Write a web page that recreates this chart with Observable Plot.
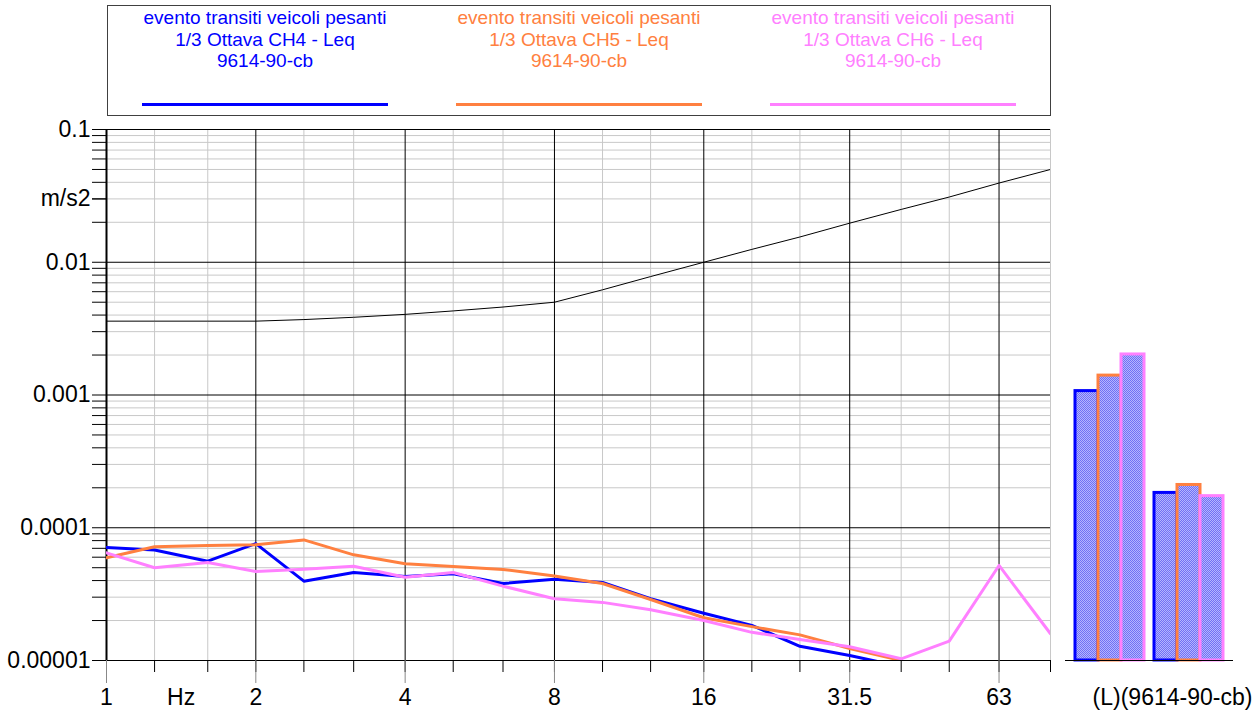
<!DOCTYPE html>
<html>
<head>
<meta charset="utf-8">
<script src="https://cdn.jsdelivr.net/npm/d3@7"></script>
<script src="https://cdn.jsdelivr.net/npm/@observablehq/plot@0.6"></script>
<style>
  body { margin: 0; background: #fff; font-family: "Liberation Sans", Arial, sans-serif; }
  #wrap { position: relative; width: 1259px; height: 713px; overflow: hidden; background: #fff; }
  #legend { position: absolute; left: 107px; top: 5px; width: 942px; height: 109px; border: 1px solid #404040; display: flex; }
  .col { flex: 1; text-align: center; font-size: 19px; line-height: 21.5px; padding-top: 1px; position: relative; }
  .col .sw { position: absolute; left: 50%; transform: translateX(-50%); width: 246px; height: 3px; top: 97px; }
  #main { position: absolute; left: 0; top: 118px; }
  #bars { position: absolute; left: 1060px; top: 118px; }
  #cap { position: absolute; left: 1086px; top: 684px; width: 173px; text-align: center; font-size: 23px; line-height: 26px; white-space: nowrap; }
</style>
</head>
<body>
<div id="wrap">
  <div id="legend"></div>
  <div id="main"></div>
  <div id="bars"></div>
  <div id="cap"></div>
</div>
<script>
// ---- data ----
const bands = [1, 1.25, 1.6, 2, 2.5, 3.15, 4, 5, 6.3, 8, 10, 12.5, 16, 20, 25, 31.5, 40, 50, 63, 80];
const octaveTicks = [1, 2, 4, 8, 16, 31.5, 63];
const octaveLabels = ["1", "2", "4", "8", "16", "31.5", "63"];
const yDecades = [0.1, 0.01, 0.001, 0.0001, 0.00001];
const yDecadeLabels = ["0.1", "0.01", "0.001", "0.0001", "0.00001"];
const yUnit = "m/s2";
const yUnitAt = 0.03;
const xUnit = "Hz";

const channels = ["CH4", "CH5", "CH6"];
const channelColors = ["#0000ff", "#ff8040", "#ff80ff"];
const legendLines = ["evento transiti veicoli pesanti", "1/3 Ottava {ch} - Leq", "9614-90-cb"];

const ch4 = [7.1e-5, 6.8e-5, 5.6e-5, 7.6e-5, 3.96e-5, 4.6e-5, 4.3e-5, 4.5e-5, 3.8e-5, 4.1e-5, 3.87e-5, 2.92e-5, 2.27e-5, 1.84e-5, 1.28e-5, 1.09e-5, 9.0e-6];
const ch5 = [5.94e-5, 7.2e-5, 7.35e-5, 7.45e-5, 8.1e-5, 6.25e-5, 5.35e-5, 5.1e-5, 4.85e-5, 4.33e-5, 3.8e-5, 2.88e-5, 2.1e-5, 1.8e-5, 1.56e-5, 1.23e-5, 1.0e-5, 6.0e-6];
const ch6 = [6.47e-5, 5.0e-5, 5.47e-5, 4.68e-5, 4.87e-5, 5.13e-5, 4.24e-5, 4.6e-5, 3.63e-5, 2.92e-5, 2.74e-5, 2.41e-5, 2.0e-5, 1.63e-5, 1.44e-5, 1.27e-5, 1.03e-5, 1.40e-5, 5.2e-5, 1.59e-5];
const limitCurve = [3.6e-3, 3.6e-3, 3.6e-3, 3.6e-3, 3.7e-3, 3.85e-3, 4.05e-3, 4.3e-3, 4.6e-3, 5.0e-3, 6.2e-3, 7.8e-3, 1.0e-2, 1.25e-2, 1.55e-2, 1.97e-2, 2.5e-2, 3.1e-2, 3.95e-2, 5.0e-2];

const barGroups = ["Lin", "L"];
const barCH4 = [1.07e-3, 1.83e-4];
const barCH5 = [1.40e-3, 2.1e-4];
const barCH6 = [2.02e-3, 1.73e-4];
const barCaption = "(L)(9614-90-cb)";

// ---- derived tables ----
const yMin = 1e-5, yMax = 0.1;
const yMinor = [];
for (const d of [0.01, 0.001, 0.0001, 0.00001]) for (let k = 2; k <= 9; k++) yMinor.push(+(d * k).toPrecision(3));
const minorBands = bands.filter(b => !octaveTicks.includes(b));
const octaveLabelMap = new Map(octaveTicks.map((t, i) => [t, octaveLabels[i]]));
const yLabelMap = new Map(yDecades.map((t, i) => [t, yDecadeLabels[i]]));

const series = [ch4, ch5, ch6];
const lineRows = series.flatMap((arr, s) => arr.map((v, i) => ({ f: bands[i], v, ch: channels[s] })));
const limitRows = limitCurve.map((v, i) => ({ f: bands[i], v }));
const barSeries = [barCH4, barCH5, barCH6];
const barRows = barGroups.flatMap((g, gi) => channels.map((c, ci) => ({ g, ch: c, v: barSeries[ci][gi] })));

// ---- legend ----
const legend = document.getElementById("legend");
channels.forEach((c, i) => {
  const col = document.createElement("div");
  col.className = "col";
  col.style.color = channelColors[i];
  col.innerHTML = legendLines.map(l => `<div>${l.replace("{ch}", c)}</div>`).join("");
  const sw = document.createElement("div");
  sw.className = "sw";
  sw.style.background = channelColors[i];
  col.appendChild(sw);
  legend.appendChild(col);
});

// ---- main chart ----
const W = 1060, H = 595, MT = 11, MB = 53, ML = 106, MR = 10;
const frameH = H - MT - MB;
const font = { fontFamily: "'Liberation Sans', Arial, sans-serif", background: "#fff", color: "#000", overflow: "visible" };
const main = Plot.plot({
  width: W, height: H,
  marginTop: MT, marginBottom: MB, marginLeft: ML, marginRight: MR,
  style: font,
  x: { type: "log", domain: [1, 80], label: null },
  y: { type: "log", domain: [yMin, yMax], label: null },
  color: { domain: channels, range: channelColors },
  marks: [
    Plot.gridY(yMinor, { stroke: "#c8c8c8", strokeOpacity: 1 }),
    Plot.gridX(minorBands, { stroke: "#c8c8c8", strokeOpacity: 1 }),
    Plot.gridY(yDecades, { stroke: "#000", strokeOpacity: 1 }),
    Plot.gridX(octaveTicks, { stroke: "#000", strokeOpacity: 1 }),
    Plot.ruleX([bands[0]], { stroke: "#000", strokeWidth: 2 }),
    Plot.axisY(yMinor, { tickSize: 14, tickFormat: () => "", stroke: "#000" }),
    Plot.axisY(yDecades, { tickSize: 14, tickPadding: 2, fontSize: 23, tickFormat: d => yLabelMap.get(d) }),
    Plot.axisY([yUnitAt], { tickSize: 14, tickPadding: 2, fontSize: 23, tickFormat: () => yUnit }),
    Plot.axisX(bands, { tickSize: 12, tickFormat: () => "", stroke: "#000" }),
    // long grey octave ticks below the frame
    Plot.ruleX(octaveTicks, { x: d => d, stroke: "#888", insetTop: frameH, insetBottom: -23 }),
    Plot.text(octaveTicks, { x: d => d, text: d => octaveLabelMap.get(d), frameAnchor: "bottom", lineAnchor: "top", dy: 28, fontSize: 23 }),
    Plot.text([xUnit], { x: () => Math.SQRT2, text: d => d, frameAnchor: "bottom", lineAnchor: "top", dy: 28, fontSize: 23 }),
    Plot.line(limitRows, { x: "f", y: "v", stroke: "#000", strokeWidth: 1, clip: true }),
    Plot.line(lineRows, { x: "f", y: "v", z: "ch", stroke: "ch", strokeWidth: 3, clip: true })
  ]
});
document.getElementById("main").appendChild(main);

// ---- bar panel ----
const bars = Plot.plot({
  width: 199, height: 562,
  marginTop: 11, marginBottom: 20, marginLeft: 15, marginRight: 35,
  style: font,
  y: { type: "log", domain: [yMin, yMax], axis: null, label: null },
  x: { domain: channels, padding: 0, axis: null, label: null },
  fx: { domain: barGroups, padding: 0.126, axis: null, label: null },
  color: { domain: channels, range: channelColors },
  marks: [
    Plot.barY(barRows, { fx: "g", x: "ch", y1: yMin, y2: "v", fill: "url(#chk)", stroke: "ch", strokeWidth: 3 }),
    Plot.ruleY([yMin], { stroke: "#000", strokeWidth: 1, insetLeft: -10, insetRight: -10 })
  ]
});
const ns = "http://www.w3.org/2000/svg";
const defs = document.createElementNS(ns, "defs");
defs.innerHTML = `<pattern id="chk" width="2" height="2" patternUnits="userSpaceOnUse">
  <rect width="2" height="2" fill="#b4b4ff"/>
  <rect width="1" height="1" fill="#7070f4"/>
  <rect x="1" y="1" width="1" height="1" fill="#7070f4"/>
</pattern>`;
bars.insertBefore(defs, bars.firstChild);
document.getElementById("bars").appendChild(bars);
document.getElementById("cap").textContent = barCaption;
</script>
</body>
</html>
